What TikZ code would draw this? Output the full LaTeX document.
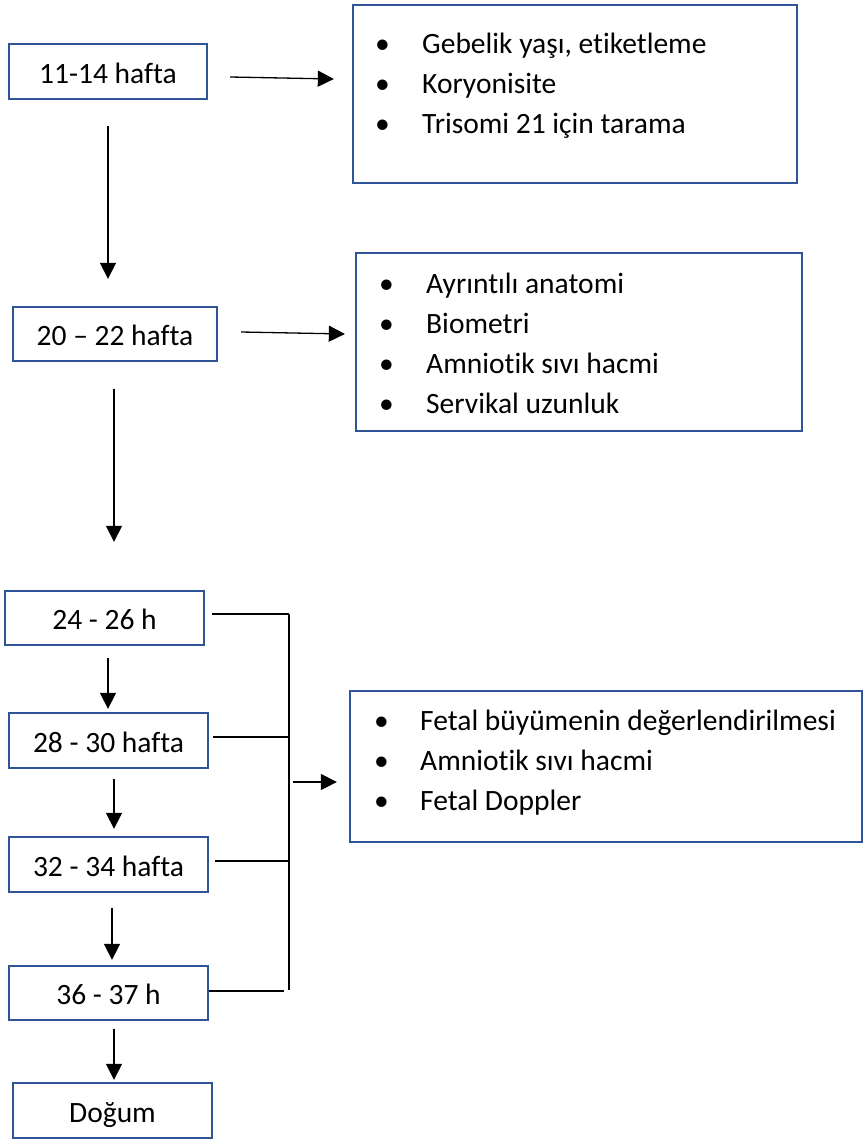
\documentclass[tikz,border=0pt]{standalone}
\usepackage{fontspec}
\setmainfont{Carlito}[Ligatures=NoCommon]
\usetikzlibrary{arrows.meta,calc}
\definecolor{boxblue}{RGB}{47,85,151}
\begin{document}
\begin{tikzpicture}[x=1pt,y=-1pt,
  stagebox/.style={draw=boxblue, line width=2.3pt, inner sep=0pt,
    font=\fontsize{29.5}{34}\selectfont, text height=23pt, text depth=0pt,
    minimum height=54pt, minimum width=199pt},
  listbox/.style={draw=boxblue, line width=2.3pt, inner sep=0pt},
  listtext/.style={anchor=base west, inner sep=0pt, font=\fontsize{29.5}{40}\selectfont},
  arr/.style={line width=1.3pt, -{Triangle[length=16pt,width=16pt]}},
  conn/.style={line width=1.3pt}]
\useasboundingbox (0,0) rectangle (864,1140);

% stage boxes
\node[stagebox, minimum width=198pt, minimum height=55pt] (b1) at (108,71.5) {11-14 hafta};
\node[stagebox, minimum width=204pt] (b2) at (115,334) {20 – 22 hafta};
\node[stagebox] (b3) at (104.5,618) {24 - 26 h};
\node[stagebox, minimum height=55pt] (b4) at (108.5,740.5) {28 - 30 hafta};
\node[stagebox, minimum height=55pt] (b5) at (108.5,864.5) {32 - 34 hafta};
\node[stagebox] (b6) at (108.5,993) {36 - 37 h};
\node[stagebox, minimum height=55pt] (b7) at (112.5,1110.5) {Doğum};

% list boxes
\node[listbox, minimum width=444pt, minimum height=178pt] (A) at (575,94) {};
\node[listbox, minimum width=446pt, minimum height=178pt] (B) at (579,342) {};
\node[listbox, minimum width=512pt, minimum height=151pt] (C) at (606,766.5) {};

\node[listtext] (ta) at (375,53) {\begin{tabular}[t]{@{}p{47pt}@{}l@{}}
• & Gebelik yaşı, etiketleme\\
• & Koryonisite\\
• & Trisomi 21 için tarama\end{tabular}};
\node[listtext] (tb) at (379,293) {\begin{tabular}[t]{@{}p{47pt}@{}l@{}}
• & Ayrıntılı anatomi\\
• & Biometri\\
• & Amniotik sıvı hacmi\\
• & Servikal uzunluk\end{tabular}};
\node[listtext] (tc) at (374,730) {\begin{tabular}[t]{@{}p{46pt}@{}l@{}}
• & Fetal büyümenin değerlendirilmesi\\
• & Amniotik sıvı hacmi\\
• & Fetal Doppler\end{tabular}};

% horizontal arrows to lists
\draw[arr] ([xshift=22pt,yshift=-5.5pt]b1.east) -- ([xshift=-18pt,yshift=15pt]A.west);
\draw[arr] ([xshift=23pt,yshift=2pt]b2.east) -- ([xshift=-10pt,yshift=8pt]B.west);

% vertical arrows
\draw[arr] ([yshift=-26pt]b1.south) -- ([yshift=27pt]b1.south |- b2.north);
\draw[arr] ([yshift=-27pt,xshift=-1pt]b2.south) -- ([yshift=48pt,xshift=-1pt]b2.south |- b3.north);
\draw[arr] ([yshift=-12pt,xshift=3.5pt]b3.south) -- ([yshift=3pt,xshift=3.5pt]b3.south |- b4.north);
\draw[arr] ([yshift=-10pt,xshift=5.5pt]b4.south) -- ([yshift=7pt,xshift=5.5pt]b4.south |- b5.north);
\draw[arr] ([yshift=-15pt,xshift=3.5pt]b5.south) -- ([yshift=5pt,xshift=3.5pt]b5.south |- b6.north);
\draw[arr] ([yshift=-8pt,xshift=5.5pt]b6.south) -- ([yshift=2pt,xshift=5.5pt]b6.south |- b7.north);

% bracket
\coordinate (jtop) at (289,614);
\coordinate (jbot) at (289,990);
\coordinate (jmid) at (293,782);
\coordinate (j4) at (289,737);
\coordinate (j5) at (289,861);
\coordinate (j6) at (284,991);
\draw[conn] (jtop) -- (jbot);
\draw[conn] ([xshift=7pt,yshift=4pt]b3.east) -- (jtop);
\draw[conn] ([xshift=4pt,yshift=3.5pt]b4.east) -- (j4);
\draw[conn] ([xshift=6pt,yshift=3.5pt]b5.east) -- (j5);
\draw[conn] ([yshift=2pt]b6.east) -- (j6);
\draw[arr, shorten >=12pt] (jmid) -- (jmid -| C.west);
\end{tikzpicture}
\end{document}
